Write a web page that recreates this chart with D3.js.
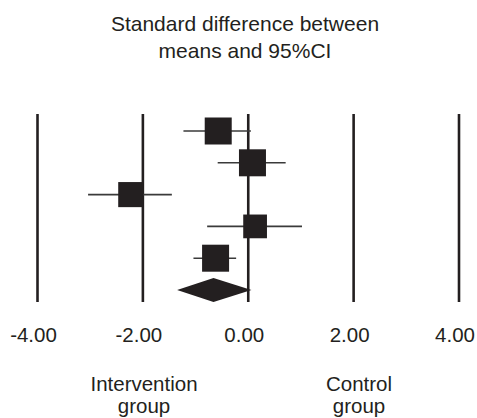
<!DOCTYPE html>
<html>
<head>
<meta charset="utf-8">
<script src="https://cdn.jsdelivr.net/npm/d3@7"></script>
<style>
  html, body { margin: 0; padding: 0; background: #fff; }
  svg { display: block; font-family: "Liberation Sans", Arial, Helvetica, sans-serif; }
</style>
</head>
<body>
<div id="chart"></div>
<script>
// Study rows (standardized difference in means, 95% CI, relative weight)
const studies = ["Study 1", "Study 2", "Study 3", "Study 4", "Study 5"];
const effects = [-0.57, 0.08, -2.23, 0.13, -0.62];
const lowerCI = [-1.23, -0.58, -3.04, -0.78, -1.04];
const upperCI = [0.05, 0.71, -1.45, 1.02, -0.23];
const weights = [22, 22, 19, 17, 22];

// Pooled estimate
const pooled = { effect: -0.66, lower: -1.35, upper: 0.06 };

const tickValues = [-4, -2, 0, 2, 4];
const titleLines = ["Standard difference between", "means and 95%CI"];
const leftLabel = ["Intervention", "group"];
const rightLabel = ["Control", "group"];

const W = 477, H = 418;
const ink = "#231f20";

const svg = d3.select("#chart").append("svg")
  .attr("width", W)
  .attr("height", H);

// Scales
const x = d3.scaleLinear().domain([-4, 4]).range([37.5, 459]);
const rows = d3.scalePoint()
  .domain(studies.concat(["Pooled"]))
  .range([131, 290]);
const size = d3.scaleSqrt().domain([0, d3.max(weights)]).range([0, 27]);

const lineTop = 114, lineBottom = 302;

// Title
svg.append("text")
  .attr("text-anchor", "middle")
  .style("font-size", "21px")
  .style("fill", ink)
  .selectAll("tspan")
  .data(titleLines)
  .enter()
  .append("tspan")
  .attr("x", 245)
  .attr("y", (d, i) => 31 + i * 27)
  .text(d => d);

// Vertical reference lines at each tick
svg.selectAll(".vline")
  .data(tickValues)
  .enter()
  .append("line")
  .attr("class", "vline")
  .attr("x1", d => x(d)).attr("x2", d => x(d))
  .attr("y1", lineTop).attr("y2", lineBottom)
  .attr("stroke", ink)
  .attr("stroke-width", 2.6);

// Axis labels (no domain / ticks, just text), plain hyphen for minus
const fmt = d => d.toFixed(2);
const axis = svg.append("g")
  .attr("transform", `translate(0,${lineBottom})`)
  .call(d3.axisBottom(x).tickValues(tickValues).tickFormat(fmt).tickSize(0));
axis.select(".domain").remove();
axis.selectAll("text")
  .attr("dx", -4.5)
  .attr("dy", 0)
  .attr("y", 40)
  .style("font-family", "\"Liberation Sans\", Arial, sans-serif")
  .style("font-size", "20.5px")
  .style("fill", ink);

// Study data
const data = studies.map((s, i) => ({
  study: s, effect: effects[i], lo: lowerCI[i], hi: upperCI[i], w: weights[i]
}));

// Confidence interval lines
svg.selectAll(".ci")
  .data(data)
  .enter()
  .append("line")
  .attr("class", "ci")
  .attr("x1", d => x(d.lo)).attr("x2", d => x(d.hi))
  .attr("y1", d => rows(d.study)).attr("y2", d => rows(d.study))
  .attr("stroke", "#3a3a3a")
  .attr("stroke-width", 1.6);

// Squares sized by weight
svg.selectAll(".box")
  .data(data)
  .enter()
  .append("rect")
  .attr("class", "box")
  .attr("x", d => x(d.effect) - size(d.w) / 2)
  .attr("y", d => rows(d.study) - size(d.w) / 2)
  .attr("width", d => size(d.w))
  .attr("height", d => size(d.w))
  .attr("fill", ink);

// Pooled diamond
const py = rows("Pooled");
const half = 12;
svg.append("path")
  .attr("d", `M${x(pooled.lower)},${py} L${x(pooled.effect)},${py - half} L${x(pooled.upper)},${py} L${x(pooled.effect)},${py + half} Z`)
  .attr("fill", ink);

// Bottom group labels
function groupLabel(lines, cx) {
  svg.append("text")
    .attr("text-anchor", "middle")
    .style("font-size", "20.5px")
    .style("fill", ink)
    .selectAll("tspan")
    .data(lines)
    .enter()
    .append("tspan")
    .attr("x", cx)
    .attr("y", (d, i) => 391 + i * 22)
    .text(d => d);
}
groupLabel(leftLabel, 144);
groupLabel(rightLabel, 359);
</script>
</body>
</html>
